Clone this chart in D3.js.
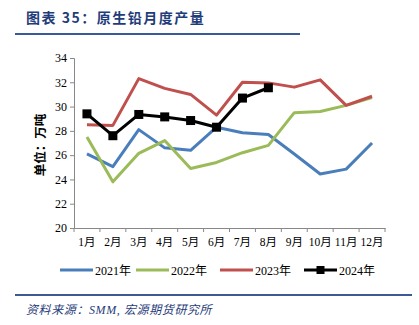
<!DOCTYPE html>
<html>
<head>
<meta charset="utf-8">
<script src="https://cdn.jsdelivr.net/npm/d3@7"></script>
<style>
  html, body { margin: 0; padding: 0; background: #fff; }
  svg { display: block; }
</style>
</head>
<body>
<script>
// Monthly primary lead output (10k tonnes)
const months = ["1月","2月","3月","4月","5月","6月","7月","8月","9月","10月","11月","12月"];
const yTicks = [20, 22, 24, 26, 28, 30, 32, 34];
const seriesNames = ["2021年", "2022年", "2023年", "2024年"];
const values2021 = [26.1, 25.05, 28.1, 26.6, 26.4, 28.3, 27.85, 27.7, 26.1, 24.45, 24.85, 27.0];
const values2022 = [27.5, 23.8, 26.15, 27.2, 24.9, 25.4, 26.2, 26.8, 29.5, 29.6, 30.1, 30.75];
const values2023 = [28.5, 28.45, 32.3, 31.5, 31.0, 29.3, 32.0, 31.95, 31.6, 32.2, 30.1, 30.85];
const values2024 = [29.4, 27.6, 29.35, 29.15, 28.85, 28.3, 30.7, 31.55];
const seriesColors = ["#4a7ebb", "#9bbb59", "#c0504d", "#000000"];

const W = 419, H = 325;
const svg = d3.select("body").append("svg").attr("width", W).attr("height", H);

// Header
svg.append("text").attr("x", 26).attr("y", 23)
  .attr("font-family", "'Noto Sans CJK SC', sans-serif").attr("font-weight", "bold")
  .attr("font-size", 14).attr("fill", "#1f3d7a").attr("letter-spacing", 1.5)
  .text("图表 35：原生铅月度产量");
svg.append("line").attr("x1", 15).attr("x2", 300).attr("y1", 34).attr("y2", 34)
  .attr("stroke", "#3a5a95").attr("stroke-width", 2);

// Footer
svg.append("line").attr("x1", 15).attr("x2", 412).attr("y1", 295).attr("y2", 295)
  .attr("stroke", "#3a5a95").attr("stroke-width", 2);
svg.append("text").attr("x", 26).attr("y", 314)
  .attr("font-family", "'Liberation Serif', 'Noto Sans CJK SC', serif").attr("font-style", "italic")
  .attr("font-size", 12).attr("fill", "#1f3d7a").attr("letter-spacing", 0.6)
  .text("资料来源：SMM, 宏源期货研究所");

// Plot area
const x = d3.scaleBand().domain(months).range([74, 385]);
const y = d3.scaleLinear().domain([20, 34]).range([228, 58]);

const axisColor = "#888";
const gy = svg.append("g").attr("transform", "translate(74,0)")
  .call(d3.axisLeft(y).tickValues(yTicks).tickSize(4).tickPadding(3));
gy.select(".domain").attr("stroke", axisColor);
gy.selectAll(".tick line").attr("stroke", axisColor);
gy.selectAll(".tick text").attr("font-family", "'Liberation Serif', serif")
  .attr("font-size", 12).attr("fill", "#000");

const gx = svg.append("g").attr("transform", "translate(0,228)")
  .call(d3.axisBottom(x).tickSize(0).tickPadding(10).tickSizeOuter(0));
gx.select(".domain").attr("stroke", axisColor);
gx.selectAll(".tick text").attr("font-family", "'Liberation Serif', 'Noto Sans CJK SC', serif")
  .attr("font-size", 11.5).attr("fill", "#000");
// tick marks between categories
const bounds = d3.range(months.length + 1).map(i => x.range()[0] + i * x.step());
svg.append("g").selectAll("line").data(bounds).join("line")
  .attr("x1", d => d).attr("x2", d => d).attr("y1", 228).attr("y2", 232)
  .attr("stroke", axisColor);

// Y axis title
svg.append("text").attr("transform", "translate(45,145) rotate(-90)")
  .attr("text-anchor", "middle")
  .attr("font-family", "'Noto Sans CJK SC', sans-serif").attr("font-weight", "bold")
  .attr("font-size", 12.5).attr("fill", "#000")
  .text("单位：万吨");

const cx = (d, i) => x(months[i]) + x.bandwidth() / 2;
const line = d3.line().x(cx).y(d => y(d));
const allSeries = [values2021, values2022, values2023, values2024];

allSeries.forEach((vals, k) => {
  svg.append("path").datum(vals).attr("d", line)
    .attr("fill", "none").attr("stroke", seriesColors[k])
    .attr("stroke-width", 3).attr("stroke-linejoin", "round");
});
// 2024 markers
svg.append("g").selectAll("rect").data(values2024).join("rect")
  .attr("x", (d, i) => cx(d, i) - 4.5).attr("y", d => y(d) - 4.5)
  .attr("width", 9).attr("height", 9).attr("fill", "#000");

// Legend
const legendX = [60, 136, 220, 304];
const legend = svg.append("g");
seriesNames.forEach((name, k) => {
  const g = legend.append("g").attr("transform", `translate(${legendX[k]},270)`);
  g.append("line").attr("x1", 0).attr("x2", 33).attr("y1", 0).attr("y2", 0)
    .attr("stroke", seriesColors[k]).attr("stroke-width", 3);
  if (k === 3) {
    g.append("rect").attr("x", 12.5).attr("y", -4).attr("width", 8).attr("height", 8).attr("fill", "#000");
  }
  g.append("text").attr("x", 35).attr("y", 4.5)
    .attr("font-family", "'Liberation Serif', 'Noto Sans CJK SC', serif")
    .attr("font-size", 12).attr("fill", "#000").text(name);
});
</script>
</body>
</html>
